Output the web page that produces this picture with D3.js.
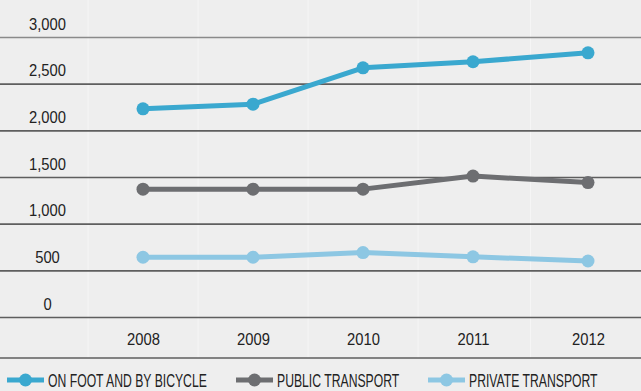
<!DOCTYPE html>
<html>
<head>
<meta charset="utf-8">
<script src="https://cdn.jsdelivr.net/npm/d3@7"></script>
<style>
  html, body { margin: 0; padding: 0; background: #eeeeee; }
  svg { display: block; }
  text { font-family: "Liberation Sans", Arial, sans-serif; fill: #222; }
</style>
</head>
<body>
<svg id="chart" width="641" height="391"></svg>
<script>
// Trips per day by mode of transport
const years = [2008, 2009, 2010, 2011, 2012];
const onFootBicycle = [2230, 2280, 2670, 2735, 2830];
const publicTransport = [1370, 1370, 1370, 1510, 1440];
const privateTransport = [640, 640, 690, 645, 600];
const yTicks = [0, 500, 1000, 1500, 2000, 2500, 3000];
const seriesNames = ["ON FOOT AND BY BICYCLE", "PUBLIC TRANSPORT", "PRIVATE TRANSPORT"];
const seriesColors = ["#3aa8cf", "#6d6e71", "#8dc7e3"];

const series = [onFootBicycle, publicTransport, privateTransport].map((vals, i) => ({
  name: seriesNames[i],
  color: seriesColors[i],
  points: years.map((yr, j) => ({ year: yr, value: vals[j] }))
}));

const W = 641, H = 391;
const numScale = 0.88;   // horizontal squeeze for a condensed look
const legScale = 0.69;
const svg = d3.select("#chart");

svg.append("rect").attr("width", W).attr("height", H).attr("fill", "#eeeeee");

const x = d3.scaleLinear().domain([2008, 2011, 2012]).range([143, 473, 588]);
const y = d3.scaleLinear().domain([0, 3000]).range([317, 37]);

// faint column separators
const colEdges = [x(2008) - 55].concat(years.slice(0, -1).map((yr, i) => (x(yr) + x(years[i + 1])) / 2));
svg.append("g").selectAll("line").data(colEdges).join("line")
  .attr("x1", d => d).attr("x2", d => d)
  .attr("y1", 0).attr("y2", 358)
  .attr("stroke", "#f5f5f5").attr("stroke-width", 1);

// horizontal grid with labels sitting above each rule
const yAxis = d3.axisLeft(y).tickValues(yTicks).tickSize(-W).tickFormat(d3.format(","));
const gy = svg.append("g").call(yAxis);
gy.select(".domain").remove();
gy.selectAll(".tick line")
  .attr("x1", 0).attr("x2", W)
  .attr("stroke", d => d === 3000 ? "#8a8a8a" : "#5e5e5e")
  .attr("stroke-width", 1.6);
gy.selectAll(".tick text")
  .attr("x", 0).attr("dy", 0)
  .attr("transform", `translate(47.5,-8) scale(${numScale},1)`)
  .attr("text-anchor", "middle")
  .attr("font-size", 16.8)
  .attr("fill", "#222");

// x axis labels in a band below the zero rule
const xAxis = d3.axisBottom(x).tickValues(years).tickSize(0).tickFormat(d3.format("d"));
const gx = svg.append("g").attr("transform", "translate(0,317)").call(xAxis);
gx.select(".domain").remove();
gx.selectAll(".tick text")
  .attr("y", 0).attr("dy", 0)
  .attr("transform", `translate(0,28) scale(${numScale},1)`)
  .attr("font-size", 16.8).attr("fill", "#222");

svg.append("line").attr("x1", 0).attr("x2", W).attr("y1", 358).attr("y2", 358)
  .attr("stroke", "#5e5e5e").attr("stroke-width", 1.6);

// series lines and markers
const line = d3.line().x(d => x(d.year)).y(d => y(d.value));
const gs = svg.append("g").selectAll("g").data(series).join("g");
gs.append("path")
  .attr("d", d => line(d.points))
  .attr("fill", "none").attr("stroke", d => d.color)
  .attr("stroke-width", 5).attr("stroke-linejoin", "round");
gs.selectAll("circle").data(d => d.points.map(p => ({ ...p, color: d.color }))).join("circle")
  .attr("cx", d => x(d.year)).attr("cy", d => y(d.value))
  .attr("r", 6.5).attr("fill", d => d.color);

// legend
const legendX = [7, 236, 428];
const lg = svg.append("g").selectAll("g").data(series).join("g")
  .attr("transform", (d, i) => `translate(${legendX[i]},380)`);
lg.append("line").attr("x1", 0).attr("x2", 37).attr("y1", 0).attr("y2", 0)
  .attr("stroke", d => d.color).attr("stroke-width", 5);
lg.append("circle").attr("cx", 18.5).attr("cy", 0).attr("r", 6.5).attr("fill", d => d.color);
lg.append("text")
  .attr("transform", `translate(41,6.5) scale(${legScale},1)`)
  .attr("font-size", 17.7).attr("fill", "#222")
  .text(d => d.name);
</script>
</body>
</html>
